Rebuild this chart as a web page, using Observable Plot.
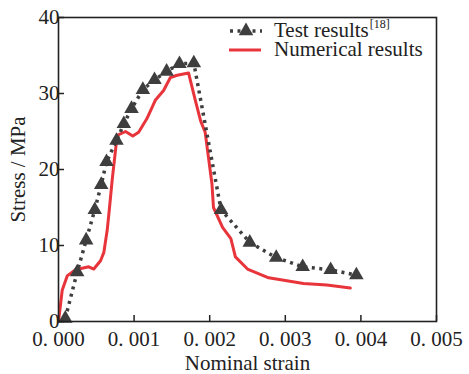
<!DOCTYPE html>
<html>
<head>
<meta charset="utf-8">
<script src="https://cdn.jsdelivr.net/npm/d3@7"></script>
<script src="https://cdn.jsdelivr.net/npm/@observablehq/plot@0.6"></script>
<style>
  body { margin: 0; background: #fff; }
  #wrap { position: relative; width: 469px; height: 374px; font-family: "Liberation Serif", "Times New Roman", Times, serif; }
  #wrap svg text { font-family: "Liberation Serif", "Times New Roman", Times, serif; }
  #legend { position: absolute; left: 229px; top: 21px; font-size: 21px; color: #222; line-height: 19px; }
  .row { display: flex; align-items: center; height: 19px; white-space: nowrap; }
  .row svg { width: 33px; height: 19px; margin-right: 12px; flex: none; }
  sup { font-size: 12px; position: relative; top: -9px; vertical-align: baseline; line-height: 0; margin-left: 1px; }
</style>
</head>
<body>
<div id="wrap"></div>
<script>
// Test results (triangles, dotted line)
const testStrain = [0.00009, 0.000247, 0.000366, 0.00048, 0.000565, 0.000635, 0.000767, 0.000864, 0.000966, 0.001116, 0.00127, 0.00143, 0.0016, 0.00179, 0.00215, 0.00253, 0.00288, 0.00323, 0.0036, 0.00394];
const testStress = [0.4, 6.5, 10.7, 14.7, 18.0, 21.0, 23.8, 26.0, 28.0, 30.5, 31.8, 32.9, 33.9, 34.0, 14.7, 10.4, 8.4, 7.2, 6.8, 6.1];
// Numerical results (red line)
const numStrain = [0, 0.000049, 0.000115, 0.000225, 0.0004, 0.000467, 0.000556, 0.0006, 0.000644, 0.000675, 0.00071, 0.000776, 0.000886, 0.000983, 0.00106, 0.00117, 0.00128, 0.00139, 0.00148, 0.00157, 0.00172, 0.00181, 0.00188, 0.00194, 0.00203, 0.00205, 0.00217, 0.00228, 0.00234, 0.0025, 0.00278, 0.00324, 0.00355, 0.00386];
const numStress = [0, 4.1, 6.0, 6.8, 7.2, 6.9, 8.0, 9.1, 12.0, 15.0, 18.6, 24.5, 25.0, 24.4, 24.9, 26.7, 29.1, 30.4, 32.1, 32.4, 32.7, 29.1, 26.4, 24.9, 18.1, 15.0, 12.4, 10.9, 8.5, 6.9, 5.75, 5.0, 4.8, 4.4];
// Axis ticks
const xTicks = [0, 0.001, 0.002, 0.003, 0.004, 0.005];
const yTicks = [0, 10, 20, 30, 40];
const seriesNames = ["Test results", "Numerical results"];

const grey = "#3e3e3e";
const red = "#e8343b";
const serif = "'Liberation Serif', 'Times New Roman', Times, serif";

const test = testStrain.map((x, i) => ({x, y: testStress[i]}));
const num = numStrain.map((x, i) => ({x, y: numStress[i]}));

const chart = Plot.plot({
  width: 469,
  height: 374,
  marginLeft: 58,
  marginRight: 33,
  marginTop: 17,
  marginBottom: 53,
  style: {fontFamily: serif, fontSize: "21px", color: "#222", background: "#fff", overflow: "visible"},
  x: {domain: [0, 0.005]},
  y: {domain: [0, 40]},
  marks: [
    Plot.line(num, {x: "x", y: "y", stroke: red, strokeWidth: 3, strokeLinejoin: "round"}),
    Plot.line(test, {x: "x", y: "y", stroke: grey, strokeWidth: 3.5, strokeDasharray: "3,4.5", strokeLinecap: "butt"}),
    Plot.dot(test, {x: "x", y: "y", symbol: "triangle", r: 5.4, fill: grey, stroke: "none"}),
    Plot.frame({stroke: "#222", strokeWidth: 1.6}),
    Plot.axisX({ticks: xTicks, tickSize: -6, tickPadding: 16, tickFormat: d => d3.format(".3f")(d).replace(".", ". "),
      label: "Nominal strain", labelAnchor: "center", labelArrow: "none", labelOffset: 48, stroke: "#222", strokeWidth: 1.5}),
    Plot.axisY({ticks: yTicks, tickSize: -6, tickPadding: 5,
      label: "Stress / MPa", labelAnchor: "center", labelArrow: "none", labelOffset: 48, stroke: "#222", strokeWidth: 1.5})
  ]
});

const wrap = document.getElementById("wrap");
wrap.appendChild(chart);

const legend = document.createElement("div");
legend.id = "legend";
legend.innerHTML = `
  <div class="row"><svg viewBox="0 0 33 19"><line x1="1" y1="10" x2="33" y2="10" stroke="${grey}" stroke-width="3.5" stroke-dasharray="3,4.5"/><path d="${d3.symbol(d3.symbolTriangle, Math.PI*5.4*5.4)()}" transform="translate(17,10)" fill="${grey}"/></svg><span>${seriesNames[0]}<sup>[18]</sup></span></div>
  <div class="row"><svg viewBox="0 0 33 19"><line x1="0" y1="10" x2="32" y2="10" stroke="${red}" stroke-width="3"/></svg><span>${seriesNames[1]}</span></div>`;
wrap.appendChild(legend);
</script>
</body>
</html>
